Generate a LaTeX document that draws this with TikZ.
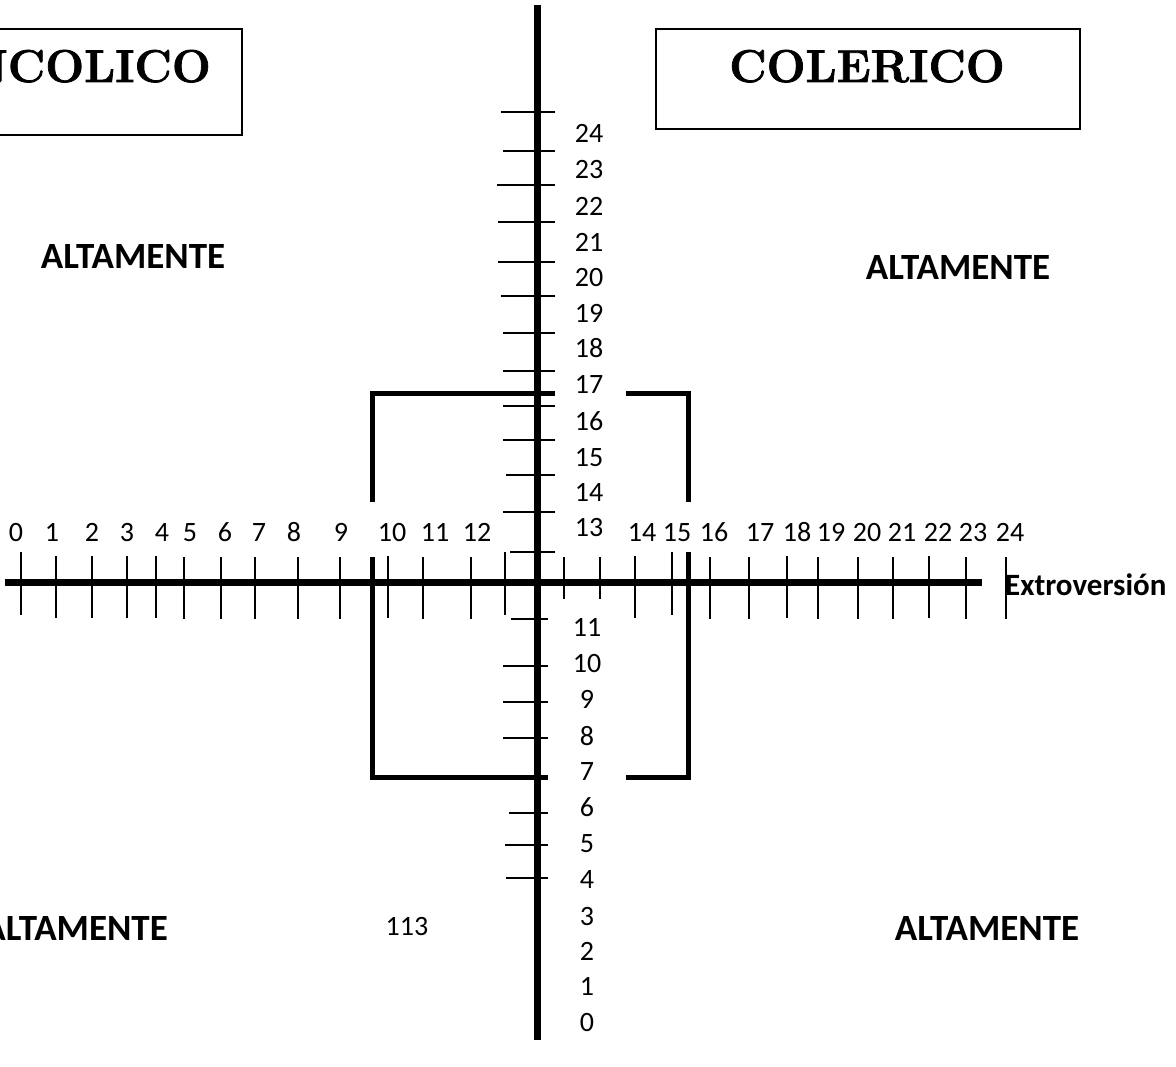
\documentclass[tikz,border=0pt]{standalone}
\usepackage{fontspec}
\setmainfont[Numbers=Lining]{Carlito}
\newfontfamily\titlefont[FakeBold=1.6]{Latin Modern Roman}
\begin{document}
\begin{tikzpicture}[x=1pt,y=-1pt,
  axis/.style={line width=7pt,black},
  tickline/.style={line width=2pt,black},
  bracketline/.style={line width=5pt,black},
  titlebox/.style={line width=1.6pt,black},
  num/.style={inner sep=0pt,text height=17.7pt,text depth=0pt,font=\fontsize{28}{30}\selectfont},
  boldlab/.style={inner sep=0pt,text height=23pt,text depth=0pt,font=\fontsize{37}{40}\selectfont\bfseries},
  titletext/.style={inner sep=0pt,font=\fontsize{46}{50}\selectfont\titlefont\bfseries}]
\useasboundingbox (0,0) rectangle (1176,1067);
\clip (0,0) rectangle (1176,1067);
% title boxes
\draw[titlebox] (-10,29) rectangle (242,135);
\draw[titlebox] (656,29) rectangle (1080,129);
\node[titletext,anchor=base east] (tmel) at (211,82) {MELANCOLICO};
\node[titletext,anchor=base] (tcol) at (867,82) {COLERICO};
% ALTAMENTE labels
\node[boldlab] (a1) at (133,257) {ALTAMENTE};
\node[boldlab] (a2) at (958,268) {ALTAMENTE};
\node[boldlab,anchor=east] (a3) at (168,929) {ALTAMENTE};
\node[boldlab] (a4) at (987,929) {ALTAMENTE};
% axes
\coordinate (vtop) at (537,5);
\coordinate (vbot) at (537,1040);
\coordinate (hleft) at (5,582);
\coordinate (hright) at (982,582);
\draw[axis] (vtop) -- (vbot);
\draw[axis] (hleft) -- (hright);
% horizontal axis ticks
\foreach \x/\a/\b [count=\k] in {21/552/615,56/556/618,92/556/618,127/556/618,156/556/618,184/557/619,221/557/619,255/557/619,298/557/619,340/557/619,388/556/618,423/557/619,471/557/619,505/552/615,564/557/599,600/557/599,635/556/618,672/552/615,710/557/619,749/557/619,787/556/618,818/557/619,858/557/619,893/557/619,929/556/618,966/557/619,1006/557/619}{
  \coordinate (ht\k a) at (\x,\a);
  \coordinate (ht\k b) at (\x,\b);
  \draw[tickline] (ht\k a) -- (ht\k b);
}
% vertical axis ticks
\foreach \y/\l/\r [count=\k] in {112/501/555,151/503/555,185/497/555,222/498/555,262/498/555,296/501/555,333/503/555,371/503/555,406/503/555,440/503/555,475/506/555,512/503/555,552/510/555,619/511/548,666/503/548,702/503/548,738/503/548,813/509/548,845/505/548,878/506/548}{
  \coordinate (vt\k a) at (\l,\y);
  \coordinate (vt\k b) at (\r,\y);
  \draw[tickline] (vt\k a) -- (vt\k b);
}
% brackets
\coordinate (b1) at (372,502); \coordinate (b2) at (372,394); \coordinate (b3) at (555,394);
\coordinate (b4) at (626,394); \coordinate (b5) at (688,394); \coordinate (b6) at (688,502);
\coordinate (b7) at (372,557); \coordinate (b8) at (372,777); \coordinate (b9) at (548,777);
\coordinate (b10) at (688,552); \coordinate (b11) at (688,777); \coordinate (b12) at (626,777);
\draw[bracketline,line join=miter] (b1) -- (b2) -- (b3);
\draw[bracketline,line join=miter] (b4) -- (b5) -- (b6);
\draw[bracketline,line join=miter] (b7) -- (b8) -- (b9);
\draw[bracketline,line join=miter] (b10) -- (b11) -- (b12);
% horizontal labels
\foreach \x/\t in {16/0,52/1,92/2,127/3,162/4,190/5,225/6,259/7,294/8,341/9,392/10,435/11,477/12,642/14,677/15,714/16,760/17,797/18,831/19,867/20,902/21,938/22,973/23,1010/24}{
  \node[num] (hl\t) at (\x,533) {\t};
}
\node[num] (l13) at (589,528) {13};
% vertical labels
\foreach \y/\t in {134/24,170/23,207/22,243/21,278/20,314/19,349/18,385/17,422/16,458/15,493/14}{
  \node[num] (vl\t) at (589,\y) {\t};
}
\foreach \y/\t in {628/11,664/10,700/9,737/8,772/7,808/6,844/5,880/4,917/3,952/2,987/1,1023/0}{
  \node[num] (vl\t) at (587,\y) {\t};
}
\node[num] (n113) at (407,927) {113};
\node[inner sep=0pt,anchor=base west,font=\fontsize{31}{34}\selectfont\bfseries] (ext) at (1005,595) {Extroversión};
\end{tikzpicture}
\end{document}
